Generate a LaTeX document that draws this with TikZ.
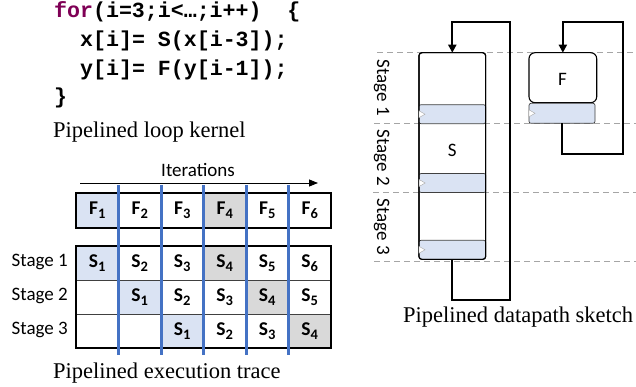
\documentclass[tikz,border=0pt]{standalone}
\usepackage{fontspec}
\setmainfont{Liberation Serif}
\newfontfamily\calib{Carlito}
\newfontfamily\codefont{Liberation Mono}
\usetikzlibrary{arrows.meta,calc}

\definecolor{kwpurple}{RGB}{127,0,85}
\definecolor{regblue}{RGB}{218,227,243}
\definecolor{cellgray}{RGB}{217,217,217}
\definecolor{iterblue}{RGB}{68,114,196}
\definecolor{guidegray}{RGB}{165,165,165}

% index of a trace entry, set a little larger and lower than \textsubscript
\newcommand\cellsub[1]{\raisebox{-4.5pt}{\fontsize{14.5}{16}\selectfont #1}}

\tikzset{
  codeline/.style={anchor=base west, inner sep=0pt, font=\codefont\bfseries\fontsize{21.6}{26}\selectfont},
  caption/.style={anchor=base west, inner sep=0pt, font=\fontsize{22.5}{27}\selectfont},
  sans/.style={inner sep=0pt, font=\calib\fontsize{19}{23}\selectfont},
  cell/.style={minimum width=42.5pt, minimum height=34pt, inner sep=0pt, outer sep=0pt,
    font=\calib\bfseries\fontsize{19.5}{23}\selectfont},
  frame/.style={line width=1.8pt, draw=black},
  innerline/.style={line width=0.9pt, draw=black!75},
  iterline/.style={line width=3pt, draw=iterblue},
  guide/.style={line width=1.3pt, draw=guidegray, dash pattern=on 6pt off 4pt},
  dpbox/.style={draw=black, line width=1.1pt, fill=white, inner sep=0pt, outer sep=0pt},
  reg/.style={draw=black!75, line width=0.7pt, fill=regblue, rounded corners=2pt,
    inner sep=0pt, outer sep=0pt},
  clk/.style={fill=white, draw=black!35, line width=0.4pt},
  loopline/.style={line width=2.2pt, draw=black, -{Triangle[length=8pt,width=8pt]}},
}

\begin{document}
\begin{tikzpicture}[x=1pt, y=-1pt]
\useasboundingbox (0,0) rectangle (636,387);

% ---------- loop kernel source ----------
\node[codeline] (code1) at (54,17.5) {{\color{kwpurple}for}(i=3;i<…;i++)\ \ \{};
\node[codeline] (code2) at (80,47) {x[i]= S(x[i-3]);};
\node[codeline] (code3) at (80,75.5) {y[i]= F(y[i-1]);};
\node[codeline] (code4) at (54,104) {\}};
\node[caption] (capkernel) at (53,137.3) {Pipelined loop kernel};

% ---------- execution trace table ----------
\coordinate (iterstart) at (80,183);
\coordinate (iterend) at (318,183);
\draw[line width=0.8pt, -{Triangle[length=9pt,width=7pt]}] (iterstart) -- (iterend);
\node[sans] (iterlabel) at (198,170) {Iterations};

% F row
\foreach \i/\fl in {1/regblue,2/white,3/white,4/cellgray,5/white,6/white}
  \node[cell, fill=\fl, minimum height=35pt] (f\i) at ({76+42.5*(\i-0.5)},210.2) {F\cellsub{\i}};

% stage 1
\foreach \i/\k/\fl in {1/1/regblue,2/2/white,3/3/white,4/4/cellgray,5/5/white,6/6/white}
  \node[cell, fill=\fl] (sa\i) at ({76+42.5*(\i-0.5)},263) {S\cellsub{\k}};
% stage 2
\foreach \i/\k/\fl in {2/1/regblue,3/2/white,4/3/white,5/4/cellgray,6/5/white}
  \node[cell, fill=\fl] (sb\i) at ({76+42.5*(\i-0.5)},297) {S\cellsub{\k}};
% stage 3
\foreach \i/\k/\fl in {3/1/regblue,4/2/white,5/3/white,6/4/cellgray}
  \node[cell, fill=\fl] (sc\i) at ({76+42.5*(\i-0.5)},331) {S\cellsub{\k}};

\draw[innerline] (76,280) -- (331,280);
\draw[innerline] (76,314) -- (331,314);
\draw[frame] (76,192.7) rectangle (331,227.7);
\draw[frame] (76,246) rectangle (331,348);

\foreach \i in {1,...,5}
  \draw[iterline] ({76+42.5*\i},185) -- ({76+42.5*\i},355);

\node[sans, anchor=east] (lab1) at (68,262) {Stage 1};
\node[sans, anchor=east] (lab2) at (68,296) {Stage 2};
\node[sans, anchor=east] (lab3) at (68,330) {Stage 3};

\node[caption] (captrace) at (53,378.5) {Pipelined execution trace};

% ---------- datapath sketch ----------
\foreach \y/\x in {52.7/377,123.3/374,192.7/373,261.7/374}
  \draw[guide] (\x,\y) -- (636,\y);

\node[sans, rotate=-90] (vst1) at (381.7,88) {Stage 1};
\node[sans, rotate=-90] (vst2) at (381.7,158) {Stage 2};
\node[sans, rotate=-90] (vst3) at (381.7,227) {Stage 3};

% S unit with three pipeline registers
\node[dpbox, rounded corners=3pt, minimum width=66.7pt, minimum height=206.6pt] (Sbox) at (452.3,156) {};
\node[reg, minimum width=66.7pt, minimum height=19pt] (sr1) at (452.3,114.2) {};
\node[reg, minimum width=66.7pt, minimum height=19pt] (sr2) at (452.5,183) {};
\node[reg, minimum width=66.7pt, minimum height=19pt] (sr3) at (452.3,249.8) {};
\draw[line width=1.1pt, rounded corners=3pt] (Sbox.south west) rectangle (Sbox.north east);
\node[sans] (Stext) at (452.3,150) {S};

% F unit with its register
\node[dpbox, rounded corners=6pt, minimum width=67.7pt, minimum height=50pt] (Fbox) at (562.85,77.7) {};
\node[sans] (Ftext) at (562.5,79) {F};
\node[reg, minimum width=66pt, minimum height=20pt] (fr) at (562,113.3) {};

% clock marks on the registers
\foreach \r in {sr1,sr2,sr3,fr}
  \filldraw[clk] ($(\r.west)+(0,-3.5)$) -- ($(\r.west)+(6,0)$) -- ($(\r.west)+(0,3.5)$) -- cycle;

% feedback paths
\coordinate (sback) at (510,22.3);
\coordinate (fback) at (623.3,22.3);
\draw[loopline] (Sbox.south) -- ++(0,40.7) -| (sback) -| (Sbox.north);
\draw[loopline] (fr.south) -- ++(0,31) -| (fback) -| (Fbox.north);

\node[caption] (capdp) at (403,322.3) {Pipelined datapath sketch};
\end{tikzpicture}
\end{document}
